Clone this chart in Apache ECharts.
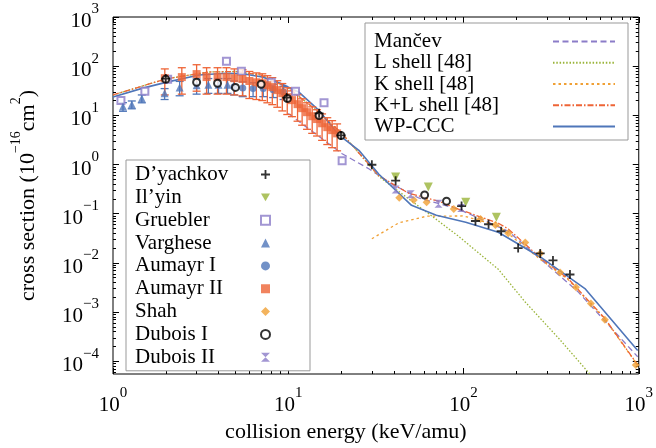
<!DOCTYPE html>
<html>
<head>
<meta charset="utf-8">
<script src="https://cdn.jsdelivr.net/npm/echarts@6/dist/echarts.min.js"></script>
<style>
  html, body { margin: 0; padding: 0; background: #fff; }
  #chart { width: 656px; height: 448px; }
</style>
</head>
<body>
<div id="chart"></div>
<script>
// energies in keV/amu, cross sections in 1e-16 cm^2

// theory curves
const wpcccE = [1, 1.48, 2.03, 3.1, 4.4, 5.5, 7.1, 9, 11.5, 14.9, 19.5, 25.3, 32.9, 50.5, 70, 103, 158, 277, 493, 986];
const wpcccS = [23.5, 35.8, 47.4, 66, 72, 70, 60, 45, 29.7, 12.8, 3.95, 1.95, 0.634, 0.148, 0.093, 0.067, 0.042, 0.0129, 0.0030, 1.66e-4];

const klE = [1, 2, 3.5, 5, 7, 10, 14, 20.3, 25, 32.9, 48.7, 72, 93.5, 158, 180, 277, 395, 641, 986];
const klS = [26, 55, 76, 78, 66, 36, 14, 4.25, 1.8, 0.59, 0.26, 0.18, 0.124, 0.064, 0.049, 0.0123, 0.0048, 7.4e-4, 8.4e-5];

const lE = [1, 2, 3.5, 5, 7, 10, 14, 20.3, 25, 32.9, 48.7, 72, 93.5, 158, 225, 350, 533];
const lS = [26, 55, 76, 78, 66, 36, 14, 4.25, 1.8, 0.57, 0.2, 0.071, 0.035, 0.0074, 0.0016, 2.9e-4, 5.2e-5];

const kE = [30, 42.7, 61.6, 100, 158, 277, 395, 641, 986];
const kS = [0.031, 0.065, 0.089, 0.09, 0.057, 0.0115, 0.0046, 7.2e-4, 8.2e-5];

const mancevE = [10, 20.3, 28.8, 39, 55.5, 93.5, 180, 277, 450, 986];
const mancevS = [10.9, 1.66, 0.82, 0.40, 0.209, 0.124, 0.044, 0.0117, 0.0026, 1.23e-4];

// measurements
const dyachkovE = [2.0, 9.8, 15, 20, 30, 41, 97.5, 117, 139, 164, 205, 274, 324, 405];
const dyachkovS = [56, 23, 11, 3.9, 0.99, 0.47, 0.143, 0.071, 0.061, 0.044, 0.020, 0.0156, 0.0112, 0.0058];

const ilyinE = [41, 63, 103, 154];
const ilyinS = [0.56, 0.35, 0.17, 0.085];

const grueblerE = [1.11, 1.52, 2.05, 4.44, 5.4, 8.0, 11, 16, 20.3];
const grueblerS = [20, 31, 54, 126, 79, 47, 31, 18, 1.19];

const vargheseE = [1.14, 1.28, 1.46, 1.97, 2.4, 3.0, 3.5, 4.0, 4.5];
const vargheseS = [15.1, 16.6, 22, 28, 37, 41, 42, 42, 42];
const vargheseErr = [3, 3, 4, 7, 12, 14, 14, 14, 14];

const aumayr1E = [4.9, 5.5, 6.3, 7.2, 8.2, 9.4];
const aumayr1S = [38, 36, 35, 35, 33, 30];
const aumayr1Err = [12, 12, 11, 11, 10, 9];

const aumayr2E = [1.975, 2.47, 3.0, 3.42, 3.95, 4.44, 4.93, 5.48, 6.0, 6.58, 7.11, 7.6, 8.11, 8.66, 9.25, 9.87,
  10.5, 11.3, 12.0, 12.8, 13.7, 14.6, 15.6, 16.7, 17.8, 19];
const aumayr2S = [57, 60, 69, 60, 60, 60, 57, 55, 50, 47, 45, 41, 37.5, 32.6, 28.3, 23.4,
  20.4, 16.9, 14, 11.6, 9.6, 8.4, 6.9, 5.75, 5.0, 4.3];
const aumayr2Err = [31, 33, 38, 33, 33, 33, 31, 30, 28, 26, 25, 23, 21, 18, 16, 13,
  11, 9.3, 7.7, 6.4, 5.3, 4.6, 3.8, 3.2, 2.8, 2.4];

const shahE = [43, 52, 61.6, 88, 125, 152, 180, 225, 274, 356, 438, 533, 641, 961];
const shahS = [0.21, 0.19, 0.17, 0.124, 0.078, 0.059, 0.040, 0.026, 0.0156, 0.0064, 0.0032, 0.0015, 7.0e-4, 8.4e-5];

const dubois1E = [2.0, 3.0, 3.95, 5.0, 7.0, 9.9, 15, 20, 60, 80];
const dubois1S = [54, 47, 45, 37, 43, 22, 9.9, 3.9, 0.24, 0.18];

const dubois2E = [41, 50, 72, 97];
const dubois2S = [0.31, 0.25, 0.16, 0.13];

// axes
const X_MIN = 1, X_MAX = 1000, Y_MIN = 5.5e-5, Y_MAX = 1000;
const xMajor = [1, 10, 100, 1000];
const yMajor = [1e-4, 1e-3, 1e-2, 1e-1, 1, 10, 100, 1000];
const minorSteps = [2, 3, 4, 5, 6, 7, 8, 9];
const xMinor = [1, 10, 100].flatMap(d => minorSteps.map(k => k * d));
const yMinor = [1e-5, 1e-4, 1e-3, 1e-2, 1e-1, 1, 10, 100].flatMap(d => minorSteps.map(k => k * d)).filter(v => v >= Y_MIN);

const FONT = '"Liberation Serif", "DejaVu Serif", serif';
const BLUE = '#4f76b9';
const RED = '#ee6436';
const PURPLE = '#8b7cc8';
const GREEN = '#9ab43a';
const ORANGE = '#f0a035';

const zip = (xs, ys) => xs.map((x, i) => [x, ys[i]]);
const withErr = (xs, ys, es) => xs.map((x, i) => [x, ys[i] - es[i], ys[i] + es[i]]);

function powLabel(v) {
  const n = Math.round(Math.log10(v));
  return '{b|10}{s|' + (n < 0 ? '\u2212' + (-n) : n) + '}';
}
const powRich = {
  b: { fontFamily: FONT, fontSize: 21, color: '#000', lineHeight: 30, verticalAlign: 'bottom' },
  s: { fontFamily: FONT, fontSize: 15, color: '#000', lineHeight: 15, verticalAlign: 'top' },
};

function logAxis(kind, position, ticks, len, withLabels) {
  const isX = kind === 'x';
  return {
    type: 'log',
    logBase: 10,
    min: isX ? X_MIN : Y_MIN,
    max: isX ? X_MAX : Y_MAX,
    position,
    axisLine: { show: false },
    splitLine: { show: false },
    axisTick: { show: true, inside: true, length: len, customValues: ticks, lineStyle: { color: '#000', width: 1 } },
    axisLabel: withLabels
      ? { show: true, customValues: isX ? xMajor : yMajor, formatter: powLabel, rich: powRich, margin: isX ? 12 : 14 }
      : { show: false },
  };
}

function errorBars(color, cap) {
  return function (params, api) {
    const lo = api.coord([api.value(0), api.value(1)]);
    const hi = api.coord([api.value(0), api.value(2)]);
    const st = { stroke: color, lineWidth: 1.3 };
    return {
      type: 'group',
      children: [
        { type: 'line', shape: { x1: lo[0], y1: lo[1], x2: hi[0], y2: hi[1] }, style: st },
        { type: 'line', shape: { x1: lo[0] - cap, y1: lo[1], x2: lo[0] + cap, y2: lo[1] }, style: st },
        { type: 'line', shape: { x1: hi[0] - cap, y1: hi[1], x2: hi[0] + cap, y2: hi[1] }, style: st },
      ],
    };
  };
}

function curve(name, xs, ys, color, type, width) {
  return {
    name, type: 'line', data: zip(xs, ys), symbol: 'none', z: 3,
    lineStyle: { color, type, width: width || 1.3 },
    itemStyle: { color },
  };
}

function points(name, xs, ys, symbol, color, size, extra) {
  return Object.assign({
    name, type: 'scatter', data: zip(xs, ys), symbol, symbolSize: size, z: 5,
    itemStyle: { color },
  }, extra || {});
}

function bars(name, xs, ys, es, color) {
  return {
    name, type: 'custom', data: withErr(xs, ys, es), renderItem: errorBars(color, 4),
    encode: { x: 0, y: [1, 2] }, z: 4, clip: true,
  };
}

const PLUS = 'path://M4,0h2v4h4v2h-4v4h-2v-4h-4v-2h4z';
const DOWN_TRI = 'path://M0,0L10,0L5,8.7Z';
const BOWTIE = 'path://M0,0L10,0L0,10L10,10Z';

const legendText = (size, lh) => ({
  rich: { t: { width: size, align: 'left', fontFamily: FONT, fontSize: 21, color: '#000', lineHeight: lh } },
});

const chart = echarts.init(document.getElementById('chart'), null, { renderer: 'canvas' });

chart.setOption({
  animation: false,
  backgroundColor: '#fff',
  textStyle: { fontFamily: FONT },
  grid: { left: 113, right: 15, top: 17, bottom: 74, show: true, borderColor: '#000', borderWidth: 1, backgroundColor: 'transparent' },
  xAxis: [
    Object.assign(logAxis('x', 'bottom', xMajor, 6, true), {
      name: 'collision energy (keV/amu)',
      nameLocation: 'middle',
      nameGap: 44,
      nameTextStyle: { fontFamily: FONT, fontSize: 22, color: '#000', padding: [0, 60, 0, 0] },
    }),
    logAxis('x', 'bottom', xMinor, 3, false),
    logAxis('x', 'top', xMajor, 6, false),
    logAxis('x', 'top', xMinor, 3, false),
  ],
  yAxis: [
    Object.assign(logAxis('y', 'left', yMajor, 6, true), {
      name: '{a|cross section (10}{s|\u221216}{a|cm}{s|2}{a|)}',
      nameLocation: 'middle',
      nameGap: 74,
      nameTextStyle: {
        rich: {
          a: { fontFamily: FONT, fontSize: 22, color: '#000', lineHeight: 30, verticalAlign: 'bottom' },
          s: { fontFamily: FONT, fontSize: 14, color: '#000', lineHeight: 14, verticalAlign: 'top' },
        },
      },
    }),
    logAxis('y', 'left', yMinor, 3, false),
    logAxis('y', 'right', yMajor, 6, false),
    logAxis('y', 'right', yMinor, 3, false),
  ],
  legend: [
    {
      data: ['Mančev', 'L shell [48]', 'K shell [48]', 'K+L shell [48]', 'WP-CCC'],
      orient: 'vertical', left: 365, top: 23, align: 'right',
      itemWidth: 62, itemHeight: 22, itemGap: 0.25,
      padding: [8, 12, 3, 9],
      backgroundColor: '#fff', borderColor: '#999', borderWidth: 1, borderRadius: 0,
      selectedMode: false,
      itemStyle: { opacity: 0 },
      formatter: n => '{t|' + n + '}',
      textStyle: legendText(174, 22),
    },
    {
      data: ['D\u2019yachkov', 'Il\u2019yin', 'Gruebler', 'Varghese', 'Aumayr I', 'Aumayr II', 'Shah', 'Dubois I', 'Dubois II'],
      orient: 'vertical', left: 126, top: 160, align: 'right',
      itemWidth: 9, itemHeight: 9, itemGap: 1.85,
      padding: [4, 39, 3, 9],
      backgroundColor: '#fff', borderColor: '#999', borderWidth: 1, borderRadius: 0,
      selectedMode: false,
      formatter: n => '{t|' + n + '}',
      textStyle: legendText(121, 22.75),
    },
  ],
  series: [
    curve('Mančev', mancevE, mancevS, PURPLE, [6, 3.5], 1.3),
    curve('L shell [48]', lE, lS, GREEN, [1.5, 1.8], 1.3),
    curve('K shell [48]', kE, kS, ORANGE, [2.5, 3], 1.3),
    curve('K+L shell [48]', klE, klS, RED, [6, 2, 1.5, 2], 1.3),
    curve('WP-CCC', wpcccE, wpcccS, BLUE, 'solid', 1.6),

    bars('Varghese err', vargheseE, vargheseS, vargheseErr, BLUE),
    bars('Aumayr I err', aumayr1E, aumayr1S, aumayr1Err, BLUE),
    bars('Aumayr II err', aumayr2E, aumayr2S, aumayr2Err, RED),

    points('Gruebler', grueblerE, grueblerS, 'emptyRect', PURPLE, 7),
    points('Varghese', vargheseE, vargheseS, 'triangle', BLUE, 8),
    points('Aumayr I', aumayr1E, aumayr1S, 'circle', BLUE, 7),
    points('Aumayr II', aumayr2E, aumayr2S, 'rect', RED, 8),
    points('Shah', shahE, shahS, 'diamond', ORANGE, 8),
    points('Il\u2019yin', ilyinE, ilyinS, DOWN_TRI, GREEN, 9),
    points('Dubois II', dubois2E, dubois2S, BOWTIE, PURPLE, 8),
    points('Dubois I', dubois1E, dubois1S, 'emptyCircle', '#000', 7),
    points('D\u2019yachkov', dyachkovE, dyachkovS, PLUS, '#000', 9),
  ],
});
</script>
</body>
</html>
